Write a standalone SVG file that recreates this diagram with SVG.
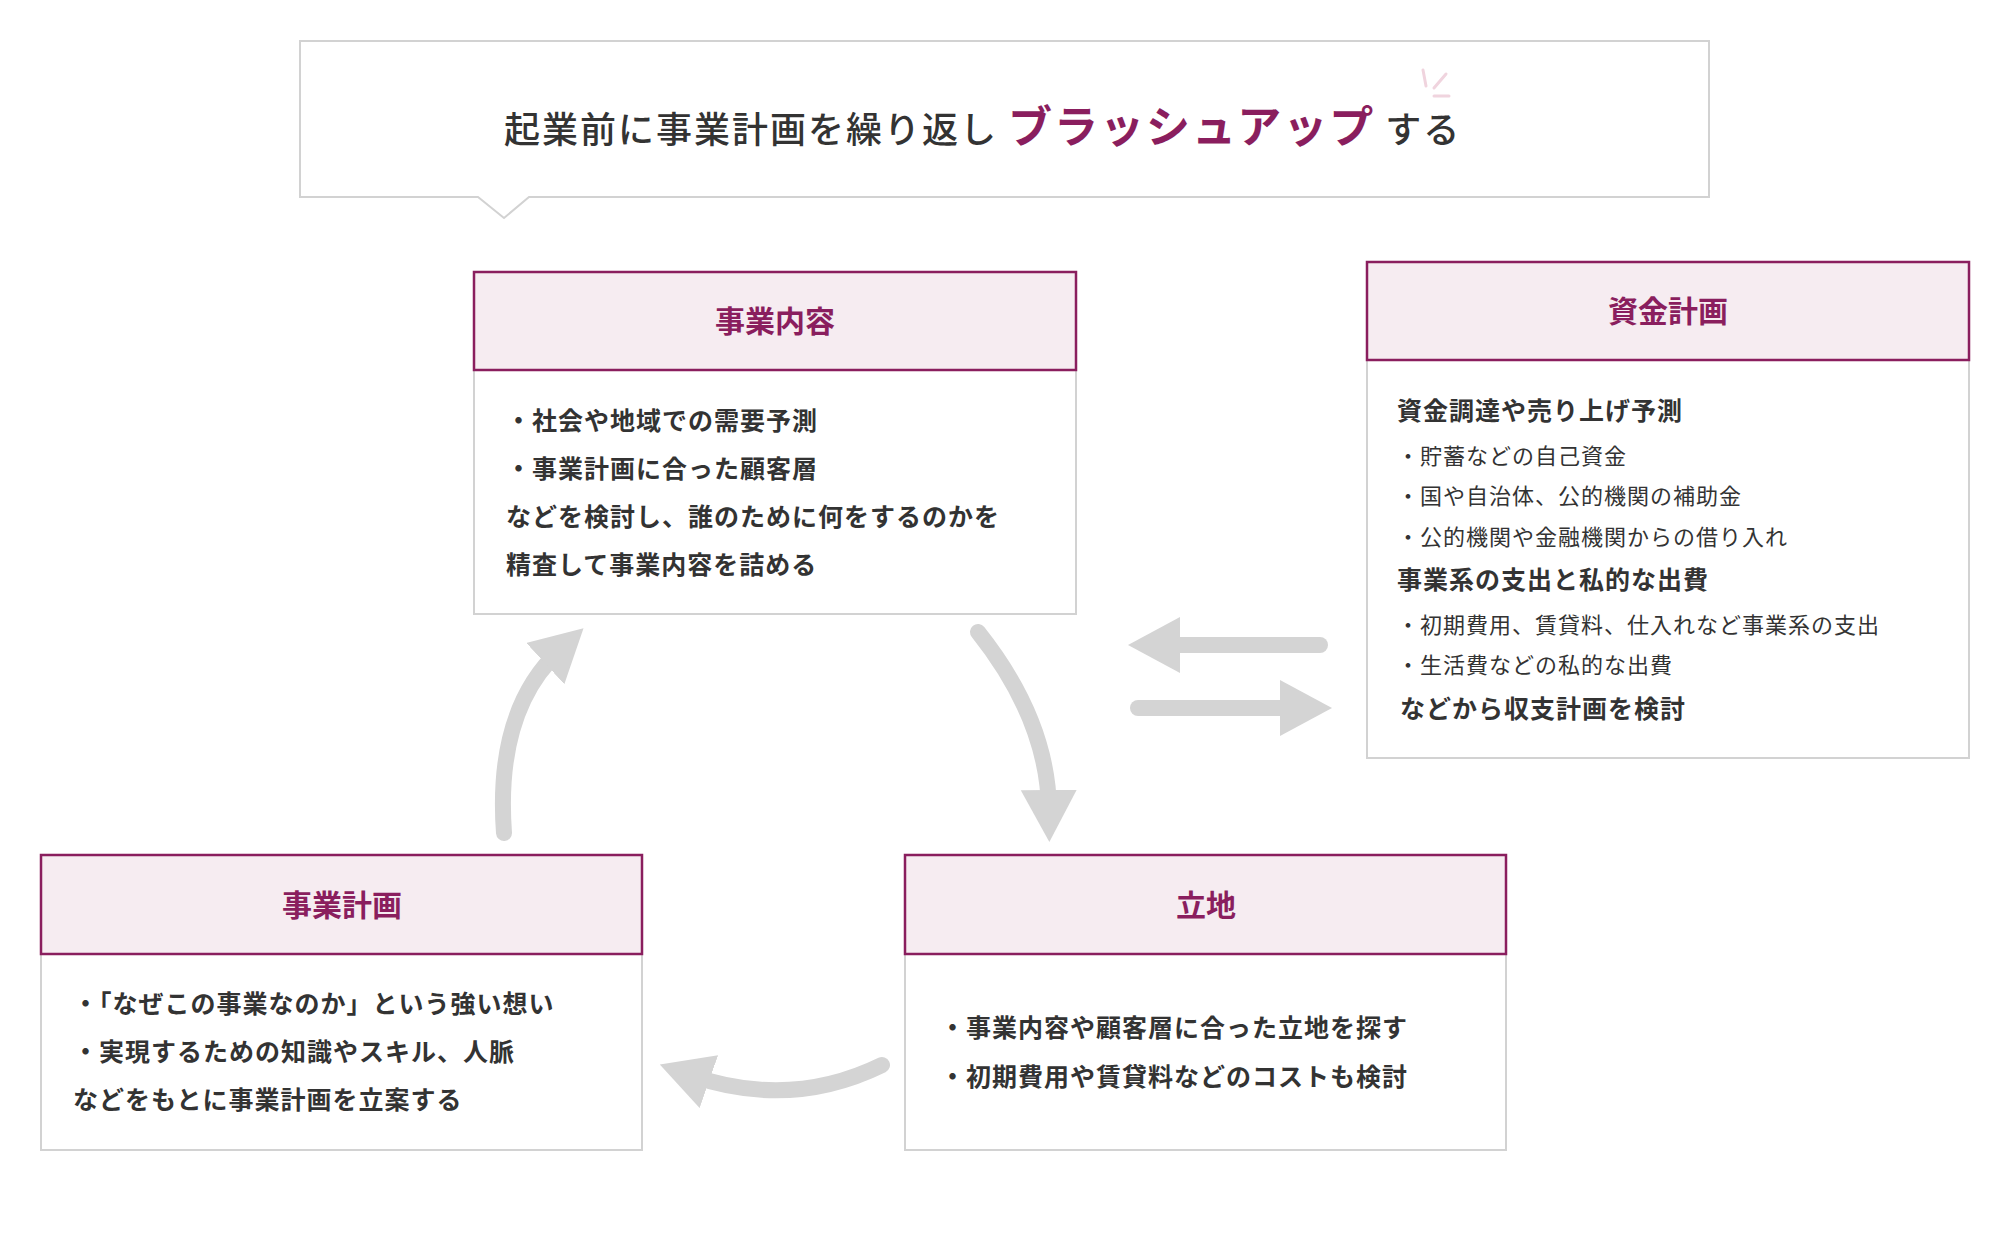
<svg xmlns="http://www.w3.org/2000/svg" width="2000" height="1260" viewBox="0 0 2000 1260">
<style>
text{font-family:"Noto Sans CJK JP","Noto Sans",sans-serif;fill:#333}
.hd{fill:#f6ecf1;stroke:#8a1e5e;stroke-width:2.5}
.bd{fill:#fff;stroke:#d2d2d2;stroke-width:2}
.ht{font-size:30px;font-weight:700;fill:#8a1e5e;text-anchor:middle}
.b{font-size:25px;font-weight:700;letter-spacing:1px}
.s{font-size:22px;letter-spacing:1px}
.ar{fill:none;stroke:#d4d4d4;stroke-width:16;stroke-linecap:round}
</style>
<defs>
<marker id="ah" markerUnits="userSpaceOnUse" markerWidth="60" markerHeight="60" refX="20" refY="28" orient="auto"><path d="M0,0 L52,28 L0,56 z" fill="#d4d4d4"/></marker>
</defs>
<g id="title">
<path d="M300,41 H1709 V197 H529 L504,218 L478,197 H300 Z" fill="#fff" stroke="#d2d2d2" stroke-width="2"/>
<text x="504" y="143" font-size="36" font-weight="500" letter-spacing="2">起業前に事業計画を繰り返し <tspan fill="#8a1e5e" font-weight="700" font-size="44">ブラッシュアップ</tspan> する</text>
<g stroke="#f0d4de" stroke-width="3" stroke-linecap="round"><path d="M1423,70 L1426,86"/><path d="M1446,74 L1434,88"/><path d="M1434,96 L1449,96"/></g>
</g>
<g id="jigyounaiyou">
<rect class="bd" x="474" y="370" width="602" height="244"/>
<rect class="hd" x="474" y="272" width="602" height="98"/>
<text class="ht" x="775" y="332">事業内容</text>
<text class="b" x="506" y="430">・社会や地域での需要予測</text>
<text class="b" x="506" y="478">・事業計画に合った顧客層</text>
<text class="b" x="506" y="526">などを検討し、誰のために何をするのかを</text>
<text class="b" x="506" y="574">精査して事業内容を詰める</text>
</g>
<g id="shikin">
<rect class="bd" x="1367" y="360" width="602" height="398"/>
<rect class="hd" x="1367" y="262" width="602" height="98"/>
<text class="ht" x="1668" y="322">資金計画</text>
<text class="b" x="1397" y="420">資金調達や売り上げ予測</text>
<text class="s" x="1397" y="464">・貯蓄などの自己資金</text>
<text class="s" x="1397" y="504">・国や自治体、公的機関の補助金</text>
<text class="s" x="1397" y="545">・公的機関や金融機関からの借り入れ</text>
<text class="b" x="1397" y="589">事業系の支出と私的な出費</text>
<text class="s" x="1397" y="633">・初期費用、賃貸料、仕入れなど事業系の支出</text>
<text class="s" x="1397" y="673">・生活費などの私的な出費</text>
<text class="b" x="1400" y="718">などから収支計画を検討</text>
</g>
<g id="jigyoukeikaku">
<rect class="bd" x="41" y="954" width="601" height="196"/>
<rect class="hd" x="41" y="855" width="601" height="99"/>
<text class="ht" x="342" y="916">事業計画</text>
<text class="b" x="73" y="1013">・「なぜこの事業なのか」という強い想い</text>
<text class="b" x="73" y="1061">・実現するための知識やスキル、人脈</text>
<text class="b" x="73" y="1109">などをもとに事業計画を立案する</text>
</g>
<g id="ricchi">
<rect class="bd" x="905" y="954" width="601" height="196"/>
<rect class="hd" x="905" y="855" width="601" height="99"/>
<text class="ht" x="1206" y="916">立地</text>
<text class="b" x="940" y="1037">・事業内容や顧客層に合った立地を探す</text>
<text class="b" x="940" y="1086">・初期費用や賃貸料などのコストも検討</text>
</g>
<g id="connectors">
<path class="ar" d="M504,833 Q495,710 560,650" marker-end="url(#ah)"/>
<path class="ar" d="M978,632 Q1048,720 1049,810" marker-end="url(#ah)"/>
<path class="ar" d="M882,1065 Q790,1110 690,1075" marker-end="url(#ah)"/>
<path class="ar" d="M1320,645 H1160" stroke-linecap="butt" marker-end="url(#ah)" style="stroke-linecap:round"/>
<path class="ar" d="M1138,708 H1300" marker-end="url(#ah)"/>
</g>
</svg>
